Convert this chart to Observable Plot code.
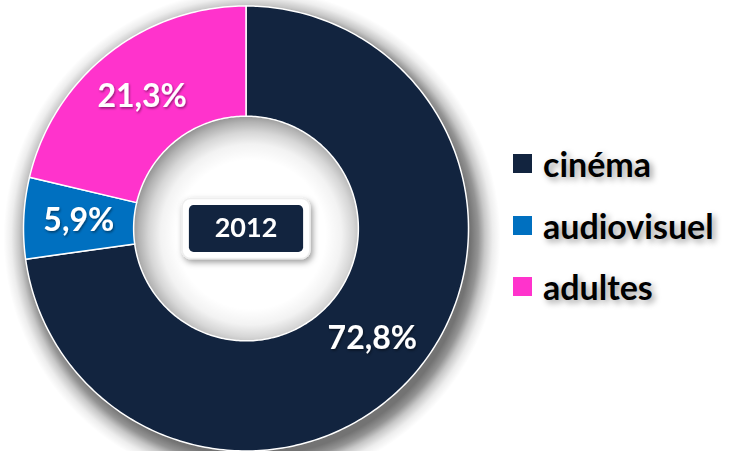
<!DOCTYPE html>
<html><head><meta charset="utf-8">
<script src="https://cdn.jsdelivr.net/npm/d3@7"></script>
<script src="https://cdn.jsdelivr.net/npm/@observablehq/plot@0.6"></script>
<style>
body{margin:0;background:#fff;}
#wrap{position:relative;width:738px;height:451px;overflow:hidden;}
#legend{position:absolute;left:513px;top:133px;font-family:Lato,sans-serif;font-weight:700;font-size:34px;color:#000;}
.item{display:flex;align-items:center;height:61.5px;}
.sw{width:19px;height:19px;margin-right:11px;flex:none;}
.item span{text-shadow:3px 3px 6px rgba(0,0,0,0.4);}
</style></head><body><div id="wrap"></div>
<script>
// ---- data ----
const categories = ["cinéma", "audiovisuel", "adultes"];
const values = [72.8, 5.9, 21.3];
const year = "2012";
// ---- style ----
const colors = ["#12243F", "#0070C0", "#FF33CC"];
const innerFrac = 0.505;
const outerPx = 222.5;       // ring radius in pixels (from the margins below)
const innerPx = outerPx * innerFrac;
const shadowSpread = 26;     // blur width of the outer ring shadow
const holeExtra = 9;         // hole-shadow disc overlaps the ring by this much

const pie = d3.pie().sort(null).value(d => d.value)(categories.map((c, i) => ({cat: c, value: values[i]})));
function arcPoints(cat, a0, a1) {
  const pts = [];
  const n = Math.max(8, Math.ceil((a1 - a0) * 60));
  for (let k = 0; k <= n; k++) {
    const a = a0 + (a1 - a0) * k / n;
    pts.push({cat, x: Math.sin(a), y: Math.cos(a)});
  }
  for (let k = n; k >= 0; k--) {
    const a = a0 + (a1 - a0) * k / n;
    pts.push({cat, x: innerFrac * Math.sin(a), y: innerFrac * Math.cos(a)});
  }
  return pts;
}
const ringPts = [];
const labels = [];
for (const s of pie) {
  ringPts.push(...arcPoints(s.data.cat, s.startAngle, s.endAngle));
  const m = (s.startAngle + s.endAngle) / 2, rr = (1 + innerFrac) / 2;
  labels.push({x: rr * Math.sin(m), y: rr * Math.cos(m), text: s.data.value.toFixed(1).replace(".", ",") + "%"});
}

function roundRect(aspect, corner) {
  return {draw(ctx, size) {
    const h = Math.sqrt(size / Math.PI), w = h * aspect, c = h * corner;
    ctx.moveTo(-w + c, -h);
    ctx.lineTo(w - c, -h); ctx.arcTo(w, -h, w, -h + c, c);
    ctx.lineTo(w, h - c); ctx.arcTo(w, h, w - c, h, c);
    ctx.lineTo(-w + c, h); ctx.arcTo(-w, h, -w, h - c, c);
    ctx.lineTo(-w, -h + c); ctx.arcTo(-w, -h, -w + c, -h, c);
    ctx.closePath();
  }};
}

const ringMarks = categories.map((c, i) =>
  Plot.line(ringPts.filter(d => d.cat === c), {x: "x", y: "y", fill: colors[i], stroke: "white", strokeWidth: 1.5, curve: "linear-closed"})
);
const shadowR = outerPx + shadowSpread;
const holeR = innerPx + holeExtra;

const chart = Plot.plot({
  width: 738, height: 451,
  marginLeft: 23, marginRight: 270, marginTop: 5.5, marginBottom: 0.5,
  x: {domain: [-1, 1], axis: null},
  y: {domain: [-1, 1], axis: null},
  style: {fontFamily: "Lato, sans-serif", background: "transparent"},
  marks: [
    Plot.dot([{x: 0, y: 0}], {x: "x", y: "y", r: shadowR, fill: "url(#ringShadowGrad)", stroke: "none", dx: 6, dy: 9}),
    Plot.dot([{x: 0, y: 0}], {x: "x", y: "y", r: holeR, fill: "url(#holeShadowGrad)", stroke: "none", dx: 5, dy: 6}),
    ...ringMarks,
    Plot.text(labels, {x: "x", y: "y", text: "text", fill: "white", fontSize: 32, fontWeight: 700}),
    Plot.dot([{x: 0, y: 0}], {x: "x", y: "y", r: 30, symbol: roundRect(2.13, 0.28), fill: "white", stroke: "#eeeeee"}),
    Plot.dot([{x: 0, y: 0}], {x: "x", y: "y", r: 23.5, symbol: roundRect(2.43, 0.2), fill: colors[0]}),
    Plot.text([{x: 0, y: 0, t: year}], {x: "x", y: "y", text: "t", fill: "white", fontSize: 27, fontWeight: 700})
  ]
});

const NS = "http://www.w3.org/2000/svg";
function mkBlur(id, dx, dy, sd, op) {
  const f = document.createElementNS(NS, "filter");
  f.setAttribute("id", id);
  f.setAttribute("x", "-25%"); f.setAttribute("y", "-25%");
  f.setAttribute("width", "150%"); f.setAttribute("height", "150%");
  const s = document.createElementNS(NS, "feDropShadow");
  s.setAttribute("dx", dx); s.setAttribute("dy", dy);
  s.setAttribute("stdDeviation", sd);
  s.setAttribute("flood-color", "#000"); s.setAttribute("flood-opacity", op);
  f.appendChild(s);
  return f;
}
function mkGrad(id, R, stops) {
  const grad = document.createElementNS(NS, "radialGradient");
  grad.setAttribute("id", id);
  for (const [r, o] of stops) {
    const st = document.createElementNS(NS, "stop");
    st.setAttribute("offset", Math.max(0, Math.min(1, r / R)).toFixed(4));
    st.setAttribute("stop-color", "#000");
    st.setAttribute("stop-opacity", o);
    grad.appendChild(st);
  }
  return grad;
}
const defs = document.createElementNS(NS, "defs");
defs.appendChild(mkBlur("ds2", 2, 3, 3, 0.4));
defs.appendChild(mkBlur("ds3", 1, 1.5, 1.2, 0.45));
const sp = shadowSpread;
defs.appendChild(mkGrad("ringShadowGrad", shadowR, [
  [0, 0], [innerPx + 10, 0], [innerPx + 20, 0.55],
  [outerPx - 4, 0.55], [outerPx + sp * 0.15, 0.42], [outerPx + sp * 0.4, 0.22], [outerPx + sp * 0.7, 0.07], [shadowR, 0]
]));
defs.appendChild(mkGrad("holeShadowGrad", holeR, [
  [0, 0], [innerPx - 38, 0], [innerPx - 22, 0.05], [innerPx - 10, 0.16], [innerPx, 0.3], [holeR, 0.46]
]));
chart.insertBefore(defs, chart.firstChild);

const groups = Array.from(chart.children).filter(n => n.tagName.toLowerCase() === "g");
// marks order: ring shadow, hole shadow, 3 slices, labels, outer box, inner box, year
if (groups[5]) groups[5].setAttribute("filter", "url(#ds3)");
if (groups[6]) groups[6].setAttribute("filter", "url(#ds2)");

const wrap = document.getElementById("wrap");
wrap.appendChild(chart);
const legend = document.createElement("div");
legend.id = "legend";
categories.forEach((c, i) => {
  const it = document.createElement("div"); it.className = "item";
  const sw = document.createElement("div"); sw.className = "sw"; sw.style.background = colors[i];
  const t = document.createElement("span"); t.textContent = c;
  it.appendChild(sw); it.appendChild(t); legend.appendChild(it);
});
wrap.appendChild(legend);
</script>
</body></html>
